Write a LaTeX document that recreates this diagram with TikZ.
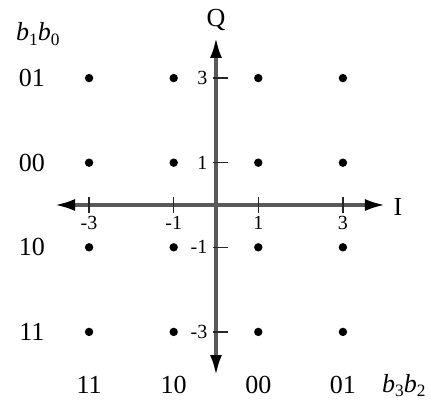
\documentclass[tikz,border=0pt]{standalone}
\usepackage{fontspec}
\setmainfont{Liberation Serif}
\usetikzlibrary{arrows.meta}
\newcommand{\bitpair}[2]{\textit{b}\raisebox{-0.35ex}{\fontsize{13}{15}\selectfont #1}\textit{b}\raisebox{-0.35ex}{\fontsize{13}{15}\selectfont #2}}
\tikzset{
  axis/.style={line width=2.3pt, black!65, -{Latex[black,length=15pt,width=9pt]}},
  tickmark/.style={line width=1.1pt, black!85},
  dot/.style={circle, fill=black, inner sep=0pt, minimum size=6.3pt},
  biglab/.style={font=\fontsize{19.5}{22}\selectfont, inner sep=0pt},
  ticklab/.style={font=\fontsize{15}{17}\selectfont, inner sep=0pt}
}
\begin{document}
\begin{tikzpicture}[x=31.7pt, y=31.7pt]
  \useasboundingbox (-5.106,-4.846) rectangle (5.059,4.846);

  % Axes
  \coordinate (origin) at (0,0);
  \coordinate (iend) at (3.995,0);
  \coordinate (istart) at (-3.806,0);
  \coordinate (qend) at (0,3.95);
  \coordinate (qstart) at (0,-4.02);
  \draw[axis] (origin) -- (iend);
  \draw[axis] (origin) -- (istart);
  \draw[axis] (origin) -- (qend);
  \draw[axis] (origin) -- (qstart);
  \node[biglab] (ilab) at (4.30,-0.05) {I};
  \node[biglab] (qlab) at (0,4.37) {Q};

  % Ticks on the I axis
  \foreach \v in {-3,-1,1,3} {
    \draw[tickmark] (\v,0.19) -- (\v,-0.19);
    \node[ticklab] (itick\v) at (\v,-0.43) {\v};
  }
  % Ticks on the Q axis
  \foreach \v/\dx in {3/-0.32, 1/-0.32, -1/-0.40, -3/-0.40} {
    \draw[tickmark] (-0.07,\v) -- (0.28,\v);
    \node[ticklab] (qtick\v) at (\dx,\v) {\v};
  }

  % Constellation points
  \foreach \x in {-3,-1,1,3} {
    \foreach \y in {-3,-1,1,3} {
      \node[dot] (p\x\y) at (\x,\y) {};
    }
  }

  % Gray code labels
  \foreach \y/\lab in {3/01, 1/00, -1/10, -3/11} {
    \node[biglab] (row\y) at (-4.35,\y) {\lab};
  }
  \foreach \x/\lab in {-3/11, -1/10, 1/00, 3/01} {
    \node[biglab] (col\x) at (\x,-4.26) {\lab};
  }
  \node[biglab] (rowhead) at (-4.21,4.04) {\bitpair{1}{0}};
  \node[biglab] (colhead) at (4.44,-4.26) {\bitpair{3}{2}};
\end{tikzpicture}
\end{document}
